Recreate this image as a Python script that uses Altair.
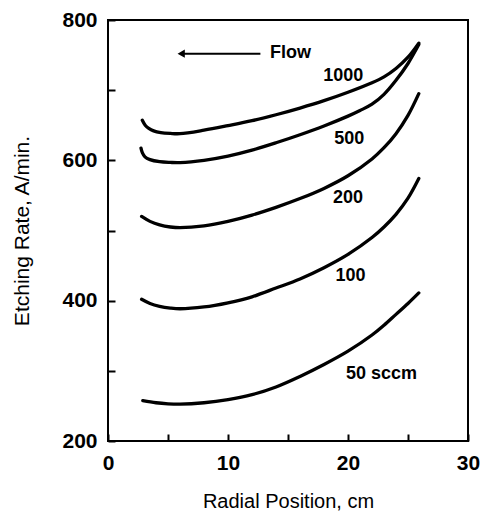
import altair as alt
import pandas as pd

# ---- data ----
x_1000 = [2.86, 3.1, 3.4, 3.8, 4.4, 5.2, 6, 8, 10, 12, 14, 16, 18, 20, 22, 23, 24, 25, 25.9]
y_1000 = [657, 650, 645.5, 642, 639.5, 638.3, 638, 643, 649.5, 656.5, 665, 674.5, 685, 697, 710.5, 719, 731, 747, 767]

x_500 = [2.75, 2.86, 3.08, 3.5, 4.3, 5.2, 6, 8, 10, 12, 14, 16, 18, 20, 21, 22, 23, 24, 25, 25.9]
y_500 = [617.5, 611, 605, 601, 598, 597, 596.8, 600, 606, 614.5, 625, 636.5, 649, 663, 671, 680, 694, 714, 738, 765]

x_200 = [2.8, 3.5, 4.3, 5.2, 6, 8, 10, 12, 14, 16, 18, 20, 22, 23, 24, 25, 25.9]
y_200 = [520, 513, 508, 505, 504, 506.5, 513, 522, 533, 545.5, 560, 578, 602, 618, 638, 664, 695]

x_100 = [2.8, 3.5, 4.3, 5.2, 6, 8, 10, 12, 14, 16, 18, 20, 22, 23, 24, 25, 25.9]
y_100 = [402, 396, 392, 389.5, 388.5, 391, 397, 405.5, 418, 431, 447, 466, 490, 505, 523, 546, 574]

x_50 = [2.9, 4, 5, 6, 8, 10, 12, 14, 16, 18, 20, 22, 23, 24, 25, 25.9]
y_50 = [257.5, 254.5, 253, 252.5, 254.5, 259, 266, 277, 292, 309, 328, 351, 365, 380.5, 396, 411]

label_texts = ["1000", "500", "200", "100", "50 sccm", "Flow"]
label_x = [19.6, 20.1, 20.0, 20.2, 22.8, 15.2]
label_y = [713.6, 623.5, 539, 427.5, 288.5, 745.5]

arrow_x_start = [12.7]
arrow_x_end = [6.1]
arrow_y = [752]

x_ticks = [0, 5, 10, 15, 20, 25, 30]
y_ticks = [200, 300, 400, 500, 600, 700, 800]

# ---- build tables ----
rows = []
for name, xs, ys in [("1000", x_1000, y_1000), ("500", x_500, y_500),
                     ("200", x_200, y_200), ("100", x_100, y_100),
                     ("50", x_50, y_50)]:
    for xv, yv in zip(xs, ys):
        rows.append({"flow": name, "r": xv, "rate": yv})
curves = pd.DataFrame(rows)
labels = pd.DataFrame({"text": label_texts, "r": label_x, "rate": label_y})
arrow = pd.DataFrame({"r": arrow_x_start, "r2": arrow_x_end, "rate": arrow_y})

FONT = "Liberation Sans"
W, H, TICK = 360, 421, 7
xscale = alt.Scale(domain=[0, 30], nice=False, zero=False)
yscale = alt.Scale(domain=[200, 800], nice=False, zero=False)

lines = alt.Chart(curves).mark_line(
    interpolate="catmull-rom", color="black", strokeWidth=3.3, strokeCap="round"
).encode(
    x=alt.X("r:Q", scale=xscale,
            axis=alt.Axis(values=x_ticks, grid=False, domain=False,
                          ticks=True, tickSize=TICK, tickWidth=2, tickColor="black",
                          offset=-TICK,
                          labelExpr="datum.value % 10 === 0 ? datum.label : ''",
                          labelFont=FONT, labelFontSize=21, labelFontWeight="bold",
                          labelColor="black", labelPadding=11, labelFlush=False,
                          title="Radial Position, cm", titleFont=FONT,
                          titleFontSize=20, titleFontWeight="normal",
                          titleColor="black", titleY=66 + TICK,
                          titleBaseline="alphabetic")),
    y=alt.Y("rate:Q", scale=yscale,
            axis=alt.Axis(values=y_ticks, grid=False, domain=False,
                          ticks=True, tickSize=TICK, tickWidth=2, tickColor="black",
                          offset=-TICK,
                          labelExpr="datum.value % 200 === 0 ? datum.label : ''",
                          labelFont=FONT, labelFontSize=21, labelFontWeight="bold",
                          labelColor="black", labelPadding=11, labelFlush=False,
                          title="Etching Rate, A/min.", titleFont=FONT,
                          titleFontSize=21, titleFontWeight="normal",
                          titleColor="black", titleX=-80 - TICK,
                          titleBaseline="alphabetic")),
    detail="flow:N",
)

texts = alt.Chart(labels).mark_text(
    font=FONT, fontSize=18, fontWeight="bold", color="black",
    align="center", baseline="alphabetic"
).encode(
    x=alt.X("r:Q", scale=xscale),
    y=alt.Y("rate:Q", scale=yscale),
    text="text:N",
)

arrow_line = alt.Chart(arrow).mark_rule(color="black", strokeWidth=2).encode(
    x=alt.X("r:Q", scale=xscale), x2="r2:Q",
    y=alt.Y("rate:Q", scale=yscale)
)
arrow_head = alt.Chart(arrow).mark_point(
    shape="triangle-left", filled=True, color="black", size=70, opacity=1
).encode(
    x=alt.X("r2:Q", scale=xscale, title="Radial Position, cm"),
    y=alt.Y("rate:Q", scale=yscale)
)

chart = alt.layer(lines, texts, arrow_line, arrow_head).properties(
    width=W, height=H,
    autosize=alt.AutoSizeParams(type="none"),
    padding={"left": 108, "top": 20, "right": 16, "bottom": 72},
).configure_view(stroke="black", strokeWidth=2)

chart.save("out.html", embed_options={"renderer": "svg", "actions": False})
